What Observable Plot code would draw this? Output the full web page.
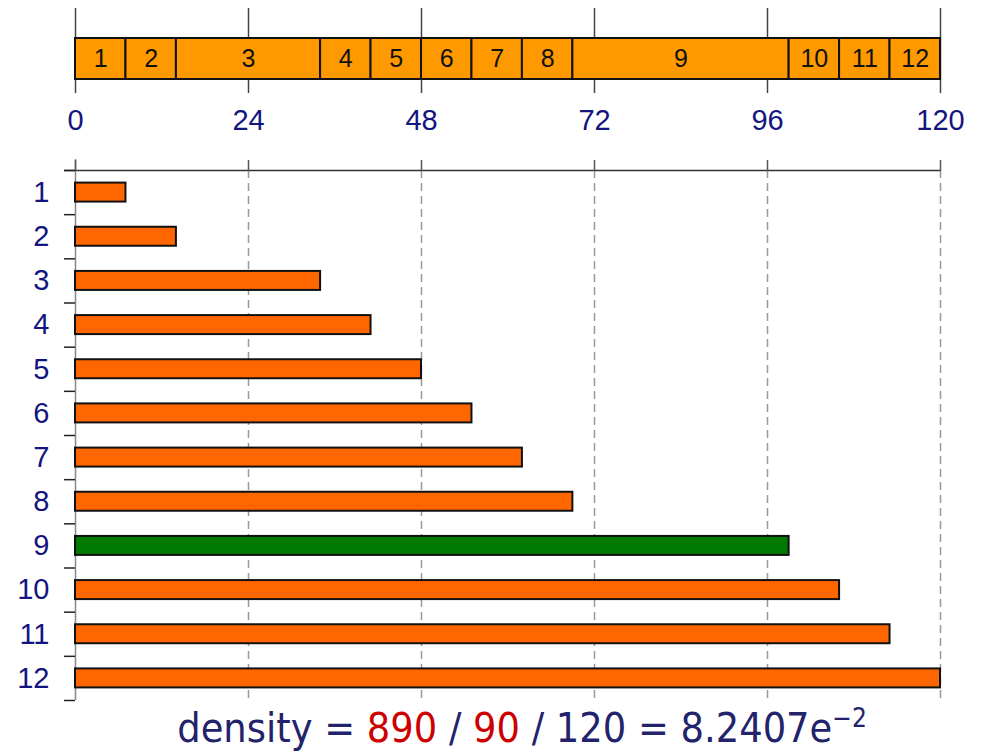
<!DOCTYPE html>
<html><head><meta charset="utf-8">
<script src="https://cdn.jsdelivr.net/npm/d3@7"></script>
<script src="https://cdn.jsdelivr.net/npm/@observablehq/plot@0.6"></script>
<style>
body{margin:0;background:#fff;width:985px;height:752px;position:relative;overflow:hidden}
#top{position:absolute;left:0;top:0}
#bot{position:absolute;left:0;top:140px}
#cap{position:absolute;left:0;width:1044px;top:704px;text-align:center;font-family:"DejaVu Sans Condensed","DejaVu Sans",sans-serif;font-size:41px;color:#23236b;white-space:nowrap;line-height:48px}
#cap .r{color:#cc0000}
#cap sup{font-size:26px;vertical-align:15px;line-height:0}
</style></head><body>
<div id="top"></div><div id="bot"></div><div id="cap"></div>
<script>
const categories = ["1","2","3","4","5","6","7","8","9","10","11","12"];
const widths = [7, 7, 20, 7, 7, 7, 7, 7, 30, 7, 7, 7];
const highlight = "9";
const xTicks = [0, 24, 48, 72, 96, 120];
const xMax = 120;
const densityCount = 890;
const densityRows = 90;
const densityWidth = 120;

const ends = d3.cumsum(widths);
const segs = categories.map((c, i) => ({cat: c, x1: ends[i] - widths[i], x2: ends[i]}));
const bars = categories.map((c, i) => ({cat: c, idx: i + 1, end: ends[i]}));
const bounds = d3.range(0, categories.length + 1).map(i => i + 0.5);
const font = "'Liberation Sans', Arial, sans-serif";
const navy = "#141480";

const topPlot = Plot.plot({
  width: 985, height: 140,
  marginLeft: 75, marginRight: 45, marginTop: 38, marginBottom: 61,
  x: {domain: [0, xMax]},
  y: {domain: ["strip"], padding: 0, axis: null},
  style: {fontFamily: font, background: "transparent", overflow: "visible"},
  marks: [
    Plot.ruleX(xTicks, {stroke: "#444", strokeWidth: 1.5, insetTop: -30, insetBottom: -14}),
    Plot.rectX(segs, {x1: "x1", x2: "x2", y: () => "strip", fill: "#ff9900", stroke: "#111", strokeWidth: 2}),
    Plot.text(segs, {x: d => (d.x1 + d.x2) / 2, y: () => "strip", text: "cat", fontSize: 25, fill: "#111"}),
    Plot.axisX(xTicks, {anchor: "bottom", tickSize: 0, tickPadding: 30, fontSize: 29, fill: navy, label: null})
  ]
});
document.getElementById("top").append(topPlot);

const botPlot = Plot.plot({
  width: 985, height: 570,
  marginLeft: 75, marginRight: 45, marginTop: 30, marginBottom: 10,
  x: {domain: [0, xMax]},
  y: {domain: [0.5, categories.length + 0.5], reverse: true},
  style: {fontFamily: font, background: "transparent", overflow: "visible"},
  marks: [
    Plot.ruleX(xTicks.slice(1), {stroke: "#999", strokeWidth: 1.5, strokeDasharray: "8,5"}),
    Plot.ruleX([0], {stroke: "#888", strokeWidth: 1.5, insetTop: -11}),
    Plot.ruleY([0.5], {stroke: "#333", strokeWidth: 1.5, insetLeft: -11}),
    Plot.axisX(xTicks, {anchor: "top", tickSize: 11, tickFormat: () => "", stroke: "#555", strokeWidth: 1.5, label: null}),
    Plot.axisY(bounds, {anchor: "left", tickSize: 11, tickFormat: () => "", stroke: "#222", strokeWidth: 1.5, label: null}),
    Plot.axisY(bars.map(d => d.idx), {anchor: "left", tickSize: 0, tickPadding: 26, fontSize: 29, fill: navy, tickFormat: d => categories[d - 1], label: null}),
    Plot.rectX(bars, {x1: 0, x2: "end", y1: d => d.idx - 0.215, y2: d => d.idx + 0.215,
      fill: d => d.cat === highlight ? "#007a00" : "#ff6600", stroke: "#111", strokeWidth: 2})
  ]
});
document.getElementById("bot").append(botPlot);

const dens = (densityCount / densityRows / densityWidth).toExponential(4).split("e");
const expo = dens[1].replace("-", "\u2212");
document.getElementById("cap").innerHTML =
  `density = <span class="r">${densityCount}</span> / <span class="r">${densityRows}</span> / ${densityWidth} = ${dens[0]}e<sup>${expo}</sup>`;
</script>
</body></html>
